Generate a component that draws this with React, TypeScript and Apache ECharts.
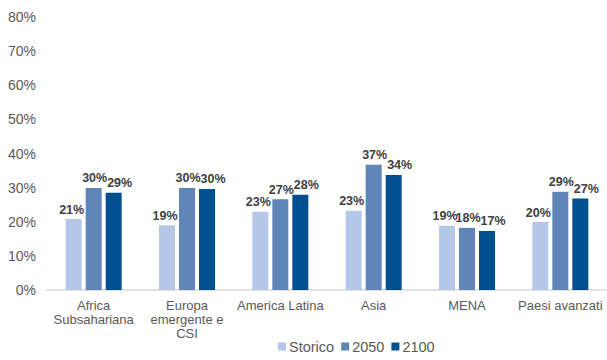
import React, { useEffect, useRef } from "react";
import * as echarts from "echarts";

const categories = ["Africa\nSubsahariana", "Europa\nemergente e\nCSI", "America Latina", "Asia", "MENA", "Paesi avanzati"];
const storico = [20.8, 19.0, 22.9, 23.2, 18.8, 19.9];
const s2050 = [29.9, 29.9, 26.6, 36.7, 18.2, 28.8];
const s2100 = [28.5, 29.6, 27.9, 33.7, 17.3, 26.8];
const seriesNames = ["Storico", "2050", "2100"];
const colors = ["#B4C7E7", "#5F86B6", "#00508F"];

export default function App() {
  const ref = useRef<HTMLDivElement>(null);
  useEffect(() => {
    const chart = echarts.init(ref.current!, null, { renderer: "svg" });
    const font = "'Liberation Sans', Arial, sans-serif";
    const mk = (name: string, data: number[], color: string, dx: number) => ({
      name,
      type: "bar",
      data,
      barGap: "25%",
      barCategoryGap: "40%",
      itemStyle: { color },
      label: {
        show: true,
        position: "top",
        distance: 3,
        offset: [dx, 0],
        formatter: (p: any) => Math.round(p.value) + "%",
        color: "#404040",
        fontWeight: "bold",
        fontSize: 12.5,
        fontFamily: font,
      },
    });
    chart.setOption({
      animation: false,
      textStyle: { fontFamily: font },
      grid: { left: 47, right: 0, top: 17, bottom: 70 },
      legend: {
        data: seriesNames,
        left: 273,
        bottom: 1,
        itemWidth: 8,
        itemHeight: 8,
        itemGap: 7,
        icon: "rect",
        textStyle: { color: "#595959", fontSize: 14.5, fontFamily: font, padding: [0, 0, 0, -2] },
      },
      xAxis: {
        type: "category",
        data: categories,
        axisLine: { show: true, lineStyle: { color: "#D9D9D9", width: 1.5 } },
        axisTick: { show: false },
        axisLabel: { color: "#595959", fontSize: 13, fontFamily: font, margin: 8, interval: 0, lineHeight: 14 },
      },
      yAxis: {
        type: "value",
        min: 0,
        max: 80,
        interval: 10,
        axisLine: { show: false },
        axisTick: { show: false },
        splitLine: { show: false },
        axisLabel: { color: "#595959", fontSize: 14, fontFamily: font, margin: 11, formatter: (v: number) => v + "%" },
      },
      series: [
        mk(seriesNames[0], storico, colors[0], -2),
        mk(seriesNames[1], s2050, colors[1], 1),
        mk(seriesNames[2], s2100, colors[2], 6),
      ],
    });
    return () => chart.dispose();
  }, []);
  return <div ref={ref} style={{ width: 607, height: 360, position: "absolute", left: 0, top: 0 }} />;
}
